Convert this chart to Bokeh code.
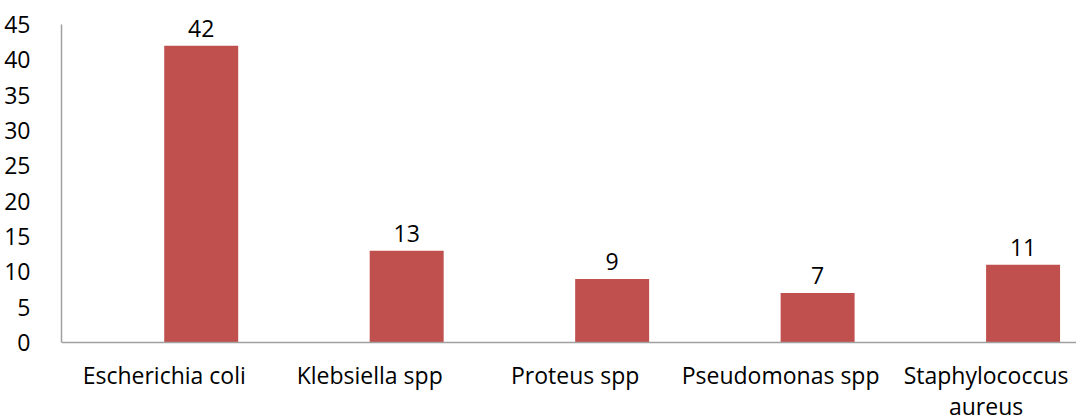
from bokeh.plotting import figure
from bokeh.models import Range1d, FixedTicker, ColumnDataSource, LabelSet
from bokeh.transform import dodge
from bokeh.core.properties import value
from bokeh.embed import file_html
from bokeh.resources import INLINE

categories = ["Escherichia coli", "Klebsiella spp", "Proteus spp", "Pseudomonas spp", "Staphylococcus\naureus"]
counts = [42, 13, 9, 7, 11]
y_ticks = [0, 5, 10, 15, 20, 25, 30, 35, 40, 45]

FONT = "Open Sans"
FS = "23px"
xs = list(range(len(categories)))
src = ColumnDataSource(dict(x=xs, top=counts, label=[str(c) for c in counts]))

p = figure(width=1076, height=419, output_backend="svg", toolbar_location=None,
           x_range=Range1d(-0.5, 4.44), y_range=Range1d(-10.9, 48.4),
           min_border_left=61, min_border_top=0, min_border_right=0, min_border_bottom=0)
p.outline_line_color = None
p.grid.visible = False

bx = dodge("x", 0.18, range=p.x_range)
p.vbar(x=bx, top="top", width=0.36, bottom=0, source=src,
       fill_color="#C0504D", line_color=None)
p.add_layout(LabelSet(x=bx, y="top", text="label", source=src, text_align="center",
                      text_baseline="alphabetic", y_offset=9, text_font=value(FONT),
                      text_font_size=value(FS), text_color=value("#000000")))

p.yaxis.ticker = FixedTicker(ticks=y_ticks)
p.yaxis.bounds = (0, 45)
p.xaxis.ticker = FixedTicker(ticks=xs)
p.xaxis.fixed_location = 0
p.xaxis.major_label_overrides = {i: c for i, c in enumerate(categories)}
for ax in (p.xaxis, p.yaxis):
    ax.axis_line_color = "#A0A0A0"
    ax.axis_line_width = 1.5
    ax.major_tick_line_color = None
    ax.minor_tick_line_color = None
    ax.major_label_text_font = FONT
    ax.major_label_text_font_size = FS
    ax.major_label_text_color = "#000000"
p.yaxis.major_label_standoff = 25
p.xaxis.major_label_standoff = 11
p.xaxis.major_label_text_line_height = 0.95

open("out.html", "w").write(file_html(p, INLINE))
